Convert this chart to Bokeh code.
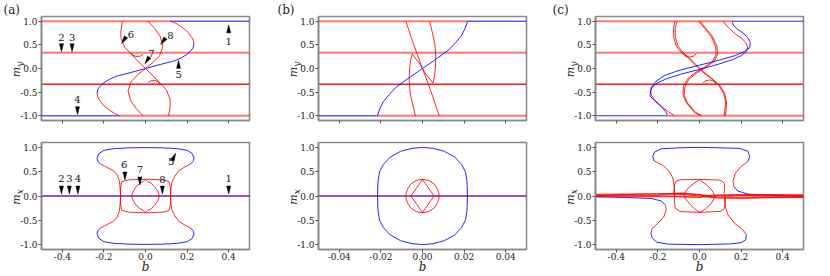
import numpy as np
from bokeh.plotting import figure
from bokeh.layouts import row, column
from bokeh.models import Range1d, FixedTicker, NumeralTickFormatter, LinearAxis
from bokeh.embed import file_html
from bokeh.resources import INLINE
from bokeh.core.properties import value

RED = "#ff0000"
BLUE = "#0000ff"
SERIF = "DejaVu Serif"
FW = 208
FH_TOP = 106
FH_BOT = 107
NB = "\u00a0"

# ---------------- panel (a), top: m_y vs b ----------------
a_blueS_b = [-0.233, -0.228, -0.215, -0.2, -0.17, -0.138, -0.075, 0.0, 0.075, 0.138, 0.17, 0.2, 0.215, 0.228, 0.233]
a_blueS_m = [-0.52, -0.43, -0.36, -0.3, -0.22, -0.16, -0.09, 0.0, 0.09, 0.16, 0.22, 0.3, 0.36, 0.43, 0.52]
a_arcLo_b = [-0.233, -0.23, -0.222, -0.2, -0.17, -0.145, -0.125]
a_arcLo_m = [-0.52, -0.6, -0.66, -0.79, -0.89, -0.96, -1.0]
a_arcHi_b = [0.233, 0.23, 0.222, 0.2, 0.17, 0.145, 0.12]
a_arcHi_m = [0.52, 0.6, 0.66, 0.79, 0.89, 0.96, 1.0]
a_curveA_b = [-0.111, -0.119, -0.118, -0.1, -0.075, -0.04, 0.0, 0.04, 0.075, 0.1, 0.118, 0.119, 0.111]
a_curveA_m = [1.0, 0.78, 0.65, 0.45, 0.335, 0.17, 0.0, -0.17, -0.335, -0.45, -0.65, -0.78, -1.0]
a_curveB_b = [0.012, 0.044, 0.071, 0.084, 0.068, 0.037, 0.0, -0.037, -0.068, -0.084, -0.071, -0.044, -0.012]
a_curveB_m = [1.0, 0.85, 0.68, 0.47, 0.27, 0.13, 0.0, -0.13, -0.27, -0.47, -0.68, -0.85, -1.0]
a_cusp1_b = [-0.067, -0.062, -0.045, -0.025, -0.012]
a_cusp1_m = [0.333, 0.28, 0.255, 0.26, 0.30]
a_cusp2_b = [0.067, 0.062, 0.045, 0.025, 0.012]
a_cusp2_m = [-0.333, -0.28, -0.255, -0.26, -0.30]
# flat levels: (level, b_from, b_to)
a_top_red_flat = [(1.0, -0.5, 0.12), (1/3, -0.5, 0.5), (-1.0, -0.125, 0.5)]
a_top_dark_flat = [(-1/3, -0.5, 0.5)]
a_top_blue_flat = [(1.0, 0.12, 0.5), (-1.0, -0.5, -0.125)]
a_top_ann_lab = ["1", "2", "3", "4", "5", "6", "7", "8"]
a_top_ann_tipb = [0.4, -0.404, -0.353, -0.327, 0.159, -0.115, -0.003, 0.073]
a_top_ann_tipm = [0.92, 0.356, 0.356, -0.975, 0.17, 0.53, 0.10, 0.51]
a_top_ann_ang = [90, 270, 270, 270, 90, 236, 237, 233]
a_top_ann_txtb = [0.4, -0.404, -0.353, -0.327, 0.159, -0.07, 0.029, 0.12]
a_top_ann_txtm = [0.58, 0.65, 0.65, -0.66, -0.12, 0.72, 0.31, 0.70]

# ---------------- panel (a), bottom: m_x vs b ----------------
a_outTop_b = [-0.217, -0.23, -0.233, -0.225, -0.2, -0.15, -0.08, 0.0, 0.08, 0.15, 0.2, 0.225, 0.233, 0.23, 0.217]
a_outTop_m = [0.66, 0.72, 0.78, 0.87, 0.94, 0.975, 0.99, 0.995, 0.99, 0.975, 0.94, 0.87, 0.78, 0.72, 0.66]
a_outBot_b = [-0.217, -0.23, -0.233, -0.225, -0.2, -0.15, -0.08, 0.0, 0.08, 0.15, 0.2, 0.225, 0.233, 0.23, 0.217]
a_outBot_m = [-0.66, -0.72, -0.78, -0.87, -0.94, -0.975, -0.99, -0.995, -0.99, -0.975, -0.94, -0.87, -0.78, -0.72, -0.66]
a_sideL_b = [-0.217, -0.186, -0.154, -0.135, -0.125, -0.122, -0.119, -0.122, -0.125, -0.135, -0.154, -0.186, -0.217]
a_sideL_m = [0.66, 0.59, 0.52, 0.43, 0.30, 0.16, 0.0, -0.16, -0.30, -0.43, -0.52, -0.59, -0.66]
a_sideR_b = [0.217, 0.186, 0.16, 0.14, 0.127, 0.122, 0.12, 0.122, 0.127, 0.14, 0.16, 0.186, 0.217]
a_sideR_m = [0.66, 0.59, 0.52, 0.40, 0.28, 0.16, 0.0, -0.16, -0.28, -0.40, -0.52, -0.59, -0.66]
a_rect_b = [-0.12, -0.121, -0.119, -0.114, -0.083, -0.04, 0.0, 0.04, 0.09, 0.113, 0.119, 0.121, 0.12,
            0.121, 0.119, 0.113, 0.09, 0.04, 0.0, -0.04, -0.083, -0.114, -0.119, -0.121, -0.12]
a_rect_m = [0.0, 0.1, 0.19, 0.296, 0.33, 0.34, 0.344, 0.34, 0.33, 0.296, 0.19, 0.1, 0.0,
            -0.1, -0.19, -0.296, -0.33, -0.34, -0.344, -0.34, -0.33, -0.296, -0.19, -0.1, 0.0]
a_eye_b = [0.0, -0.01, -0.027, -0.051, -0.063, -0.066, -0.063, -0.051, -0.027, -0.01, 0.0,
           0.01, 0.027, 0.051, 0.063, 0.066, 0.063, 0.051, 0.027, 0.01, 0.0]
a_eye_m = [0.34, 0.3, 0.26, 0.16, 0.055, 0.0, -0.055, -0.16, -0.26, -0.3, -0.34,
           -0.3, -0.26, -0.16, -0.055, 0.0, 0.055, 0.16, 0.26, 0.3, 0.34]
a_bot_ann_lab = ["1", "2", "3", "4", "5", "6", "7", "8"]
a_bot_ann_tipb = [0.4, -0.404, -0.366, -0.325, 0.145, -0.099, -0.027, 0.081]
a_bot_ann_tipm = [0.04, 0.04, 0.04, 0.04, 0.88, 0.33, 0.227, 0.04]
a_bot_ann_ang = [270, 270, 270, 270, 65, 270, 270, 270]
a_bot_ann_txtb = [0.4, -0.404, -0.366, -0.325, 0.124, -0.102, -0.027, 0.081]
a_bot_ann_txtm = [0.37, 0.37, 0.37, 0.37, 0.71, 0.64, 0.55, 0.345]

# ---------------- panel (b), top ----------------
b_blue_b = [-0.0216, -0.0213, -0.0205, -0.0188, -0.016, -0.0128, -0.0066, 0.0, 0.0066, 0.0128, 0.016, 0.0188, 0.0205, 0.0213, 0.0216]
b_blue_m = [-1.0, -0.95, -0.85, -0.7, -0.55, -0.4, -0.2, 0.0, 0.2, 0.4, 0.55, 0.7, 0.85, 0.95, 1.0]
b_r1_b = [-0.008, -0.0042, 0.0, 0.0042, 0.008]
b_r1_m = [1.0, 0.5, 0.0, -0.5, -1.0]
b_r2_b = [0.0034, 0.0048, 0.006, 0.0064, 0.0062, 0.0056, 0.005]
b_r2_m = [1.0, 0.75, 0.5, 0.25, 0.0, -0.2, -0.31]
b_r3_b = [-0.0034, -0.0048, -0.006, -0.0064, -0.0062, -0.0056, -0.005]
b_r3_m = [-1.0, -0.75, -0.5, -0.25, 0.0, 0.2, 0.31]
b_c1_b = [-0.005, -0.0035, -0.002, -0.0008, 0.0]
b_c1_m = [0.31, 0.22, 0.14, 0.06, 0.0]
b_c2_b = [0.005, 0.0035, 0.002, 0.0008, 0.0]
b_c2_m = [-0.31, -0.22, -0.14, -0.06, 0.0]
b_top_red_flat = [(1.0, -0.05, 0.0216), (1/3, -0.05, 0.05), (-1.0, -0.0216, 0.05)]
b_top_dark_flat = [(-1/3, -0.05, 0.05)]
b_top_blue_flat = [(1.0, 0.0216, 0.05), (-1.0, -0.05, -0.0216)]

# ---------------- panel (b), bottom ----------------
b_loop_b = [0.0, -0.005, -0.0105, -0.0155, -0.0188, -0.0206, -0.0214, -0.0216, -0.0214, -0.0206, -0.0188, -0.0155, -0.0105, -0.005, 0.0,
            0.005, 0.0105, 0.0155, 0.0188, 0.0206, 0.0214, 0.0216, 0.0214, 0.0206, 0.0188, 0.0155, 0.0105, 0.005, 0.0]
b_loop_m = [1.0, 0.98, 0.92, 0.8, 0.65, 0.5, 0.3, 0.0, -0.3, -0.5, -0.65, -0.8, -0.92, -0.98, -1.0,
            -0.98, -0.92, -0.8, -0.65, -0.5, -0.3, 0.0, 0.3, 0.5, 0.65, 0.8, 0.92, 0.98, 1.0]
b_oval_b = [0.0, -0.003, -0.0055, -0.007, -0.0078, -0.008, -0.0078, -0.007, -0.0055, -0.003, 0.0,
            0.003, 0.0055, 0.007, 0.0078, 0.008, 0.0078, 0.007, 0.0055, 0.003, 0.0]
b_oval_m = [0.345, 0.32, 0.25, 0.16, 0.07, 0.0, -0.07, -0.16, -0.25, -0.32, -0.345,
            -0.32, -0.25, -0.16, -0.07, 0.0, 0.07, 0.16, 0.25, 0.32, 0.345]
b_diam_b = [0.0, -0.0014, -0.0028, -0.0042, -0.0056, -0.0042, -0.0028, -0.0014, 0.0, 0.0014, 0.0028, 0.0042, 0.0056, 0.0042, 0.0028, 0.0014, 0.0]
b_diam_m = [0.34, 0.255, 0.17, 0.085, 0.0, -0.085, -0.17, -0.255, -0.34, -0.255, -0.17, -0.085, 0.0, 0.085, 0.17, 0.255, 0.34]

# ---------------- panel (c), top ----------------
c_S1_b = [0.5, 0.161, 0.158, 0.165, 0.177, 0.209, 0.233, 0.244, 0.241, 0.217, 0.169, 0.089, 0.0, -0.104, -0.169, -0.209, -0.233, -0.238, -0.217, -0.185, -0.163, -0.155, -0.158, -0.5]
c_S1_m = [1.0, 1.0, 0.97, 0.91, 0.85, 0.75, 0.65, 0.55, 0.44, 0.36, 0.27, 0.17, 0.07, -0.047, -0.15, -0.27, -0.41, -0.58, -0.68, -0.8, -0.91, -0.97, -1.0, -1.0]
c_S2_b = [0.232, 0.225, 0.2, 0.16, 0.09, 0.0, -0.09, -0.16, -0.2, -0.225, -0.235]
c_S2_m = [0.45, 0.36, 0.27, 0.19, 0.09, -0.02, -0.12, -0.22, -0.3, -0.38, -0.47]
c_arcHi_b = [0.232, 0.222, 0.205, 0.175, 0.145, 0.125, 0.115]
c_arcHi_m = [0.45, 0.55, 0.63, 0.72, 0.84, 0.93, 1.0]
c_arcLo_b = [-0.235, -0.232, -0.215, -0.185, -0.155, -0.12]
c_arcLo_m = [-0.47, -0.56, -0.67, -0.79, -0.9, -1.0]
c_A1_b = [-0.118, -0.125, -0.124, -0.112, -0.088, -0.056, -0.016, 0.016, 0.056, 0.092, 0.115, 0.126, 0.122, 0.118]
c_A1_m = [1.0, 0.85, 0.66, 0.48, 0.34, 0.23, 0.06, -0.075, -0.21, -0.35, -0.52, -0.7, -0.88, -1.0]
c_A2_b = [-0.108, -0.117, -0.116, -0.104, -0.08, -0.048, -0.01, 0.022, 0.062, 0.098, 0.121, 0.13, 0.128, 0.124]
c_A2_m = [1.0, 0.85, 0.66, 0.48, 0.34, 0.22, 0.05, -0.08, -0.22, -0.36, -0.53, -0.7, -0.88, -1.0]
c_B1_b = [-0.005, 0.024, 0.056, 0.077, 0.08, 0.064, 0.024, -0.016, -0.056, -0.077, -0.08, -0.064, -0.024, 0.005]
c_B1_m = [1.0, 0.85, 0.68, 0.47, 0.3, 0.16, 0.03, -0.075, -0.21, -0.38, -0.55, -0.72, -0.93, -1.0]
c_B2_b = [0.003, 0.03, 0.062, 0.084, 0.087, 0.07, 0.03, -0.01, -0.05, -0.07, -0.074, -0.058, -0.018, 0.011]
c_B2_m = [1.0, 0.85, 0.68, 0.47, 0.3, 0.15, 0.02, -0.085, -0.22, -0.39, -0.56, -0.73, -0.93, -1.0]
c_cusp1_b = [-0.08, -0.07, -0.05, -0.03, -0.015]
c_cusp1_m = [0.333, 0.27, 0.24, 0.26, 0.31]
c_cusp2_b = [0.08, 0.07, 0.05, 0.03, 0.015]
c_cusp2_m = [-0.333, -0.27, -0.24, -0.26, -0.31]
c_top_red_flat = [(1.0, -0.5, 0.161), (1/3, -0.5, 0.5), (-1.0, -0.158, 0.5)]
c_top_dark_flat = [(-1/3, -0.5, 0.5)]

# ---------------- panel (c), bottom ----------------
c_blueTop_b = [-0.217, -0.225, -0.217, -0.185, -0.1, 0.0, 0.1, 0.193, 0.233, 0.241, 0.233]
c_blueTop_m = [0.72, 0.81, 0.9, 0.97, 0.99, 1.0, 0.99, 0.98, 0.92, 0.81, 0.71]
c_redUR_b = [0.233, 0.201, 0.172, 0.161, 0.166]
c_redUR_m = [0.71, 0.61, 0.47, 0.30, 0.19]
c_blueTailR_b = [0.166, 0.185, 0.233, 0.33, 0.5]
c_blueTailR_m = [0.19, 0.10, 0.04, 0.014, 0.0]
c_redUL_b = [-0.217, -0.176, -0.145, -0.128, -0.12, -0.12]
c_redUL_m = [0.72, 0.63, 0.5, 0.37, 0.16, 0.0]
c_blueBot_b = [-0.233, -0.228, -0.205, -0.15, 0.0, 0.15, 0.2, 0.222, 0.225]
c_blueBot_m = [-0.77, -0.86, -0.95, -0.99, -1.0, -0.985, -0.96, -0.9, -0.79]
c_redLR_b = [0.225, 0.209, 0.169, 0.137, 0.124, 0.12, 0.12]
c_redLR_m = [-0.79, -0.7, -0.56, -0.39, -0.22, -0.05, 0.0]
c_redLL_b = [-0.233, -0.228, -0.2, -0.172, -0.16, -0.163]
c_redLL_m = [-0.77, -0.67, -0.56, -0.43, -0.29, -0.19]
c_blueTailL_b = [-0.163, -0.185, -0.233, -0.36, -0.5]
c_blueTailL_m = [-0.19, -0.10, -0.05, -0.03, -0.01]
c_rectU_b = [-0.124, -0.12, -0.112, -0.09, 0.0, 0.09, 0.104, 0.12, 0.12, 0.118]
c_rectU_m = [0.05, 0.23, 0.31, 0.335, 0.34, 0.33, 0.32, 0.26, 0.15, 0.05]
c_rectL_b = [-0.12, -0.12, -0.116, -0.092, 0.0, 0.101, 0.12, 0.124, 0.124]
c_rectL_m = [-0.02, -0.12, -0.255, -0.32, -0.337, -0.317, -0.255, -0.12, -0.02]
c_eye1_b = [0.0, -0.012, -0.03, -0.055, -0.07, -0.075, -0.068, -0.05, -0.025, -0.008, 0.0]
c_eye1_m = [0.34, 0.3, 0.25, 0.16, 0.07, 0.02, -0.05, -0.15, -0.26, -0.31, -0.337]
c_eye2_b = [0.0, 0.01, 0.028, 0.052, 0.066, 0.072, 0.07, 0.055, 0.03, 0.012, 0.0]
c_eye2_m = [0.34, 0.3, 0.25, 0.16, 0.07, 0.0, -0.06, -0.16, -0.26, -0.31, -0.337]
c_bundle_b = [-0.5, -0.2, -0.08, 0.0, 0.08, 0.2, 0.5]
c_bundle_m = [
    [0.035, 0.045, 0.05, 0.02, -0.03, -0.04, -0.03],
    [0.01, 0.02, 0.03, 0.0, -0.04, -0.045, -0.02],
    [-0.02, -0.015, -0.01, 0.0, 0.02, 0.03, 0.025],
    [0.0, 0.005, -0.02, -0.03, 0.01, 0.015, 0.01],
    [0.02, 0.04, 0.06, 0.03, -0.01, -0.02, -0.01],
]

Y_TICKS = [-1.0, -0.5, 0.0, 0.5, 1.0]
AB_TICKS = [-0.4, -0.2, 0.0, 0.2, 0.4]
B_TICKS = [-0.04, -0.02, 0.0, 0.02, 0.04]
TXT = "#222222"


def make_fig(xr, width, height, left, right, top, bottom, fh, xticks, fmt, is_top, sub, letter=None, letter_off=0):
    p = figure(width=width, height=height, x_range=Range1d(*xr), y_range=Range1d(-1.1, 1.1),
               output_backend="svg", toolbar_location=None,
               min_border_left=left, min_border_right=right,
               min_border_top=top, min_border_bottom=bottom)
    p.grid.visible = False
    p.outline_line_color = "#8a8a8a"
    p.outline_line_width = 1.6
    p.xaxis.ticker = FixedTicker(ticks=xticks)
    p.yaxis.ticker = FixedTicker(ticks=Y_TICKS)
    p.xaxis.formatter = NumeralTickFormatter(format=fmt)
    p.yaxis.formatter = NumeralTickFormatter(format="0.0")
    for ax in (p.xaxis[0], p.yaxis[0]):
        ax.axis_line_color = "#8a8a8a"
        ax.axis_line_width = 1.6
        ax.major_tick_line_color = "#555555"
        ax.minor_tick_line_color = None
        ax.major_tick_out = 3
        ax.major_tick_in = 0
        ax.major_label_standoff = 1
        ax.major_label_text_font = SERIF
        ax.major_label_text_font_size = "9px"
        ax.major_label_text_color = TXT
    # y label: subscript on the inner axis, "m" on an outer label-only axis
    ya = p.yaxis[0]
    ya.axis_label = NB * 3 + sub
    ya.axis_label_standoff = -8
    ya.axis_label_text_font = SERIF
    ya.axis_label_text_font_style = "italic"
    ya.axis_label_text_font_size = "9px"
    ya.axis_label_text_color = TXT
    outer = LinearAxis(ticker=FixedTicker(ticks=[]), axis_label="m" + NB * 2, axis_line_color=None,
                       major_tick_out=0, major_tick_in=0, minor_tick_out=0, minor_tick_in=0,
                       major_label_standoff=0, axis_label_standoff=-10,
                       axis_label_text_font=SERIF, axis_label_text_font_style="italic",
                       axis_label_text_font_size="11px", axis_label_text_color=TXT)
    p.add_layout(outer, "left")
    xa = p.xaxis[0]
    if is_top:
        xa.major_label_text_font_size = "1px"
        xa.major_label_text_color = None
        xa.major_label_standoff = 0
    else:
        xa.major_label_standoff = 0
        xa.axis_label = "b"
        xa.axis_label_standoff = -3
        xa.axis_label_text_font = SERIF
        xa.axis_label_text_font_style = "italic"
        xa.axis_label_text_font_size = "12px"
        xa.axis_label_text_color = TXT
    if letter is not None:
        p.title.text = letter
        p.title.align = "left"
        p.title.offset = letter_off
        p.title.standoff = 0
        p.title.text_font = SERIF
        p.title.text_font_style = "normal"
        p.title.text_font_size = "12px"
        p.title.text_color = TXT
    p._fh = fh
    p._sx = FW / (xr[1] - xr[0])
    p._sy = fh / 2.2
    return p


def flat(p, items, color, alpha, w):
    for lev, x0, x1 in items:
        p.line([x0, x1], [lev, lev], line_color=color, line_alpha=alpha, line_width=w)


def pink_flat(p, items):
    flat(p, items, RED, 0.3, 2.6)
    flat(p, items, RED, 0.45, 1.0)


def curve(p, xs, ys, color, alpha=0.85, w=1.0):
    p.line(xs, ys, line_color=color, line_alpha=alpha, line_width=w)


def annotate(p, labs, tb, tm, ang, xb, xm):
    xs_all, ys_all = [], []
    for k in range(len(labs)):
        a = np.deg2rad(ang[k])
        ux, uy = np.cos(a), np.sin(a)
        L, W = 8.0, 4.0
        bx, by = -L * ux, -L * uy
        nx, ny = -uy, ux
        xs_all.append([tb[k], tb[k] + (bx + nx * W / 2) / p._sx, tb[k] + (bx - nx * W / 2) / p._sx])
        ys_all.append([tm[k], tm[k] + (by + ny * W / 2) / p._sy, tm[k] + (by - ny * W / 2) / p._sy])
    p.patches(xs_all, ys_all, fill_color="black", line_color="black", line_width=0.5)
    p.text(x=xb, y=xm, text=labs, text_font=value(SERIF), text_font_size="10px",
           text_align="center", text_baseline="middle", text_color="#111111")


# ---------------- build (a) ----------------
pa1 = make_fig((-0.5, 0.5), 276, 130, 41, 27, 14, 10, FH_TOP, AB_TICKS, "0.0", True, "y", "(a)", -38)
pink_flat(pa1, a_top_red_flat)
flat(pa1, a_top_dark_flat, RED, 0.9, 1.3)
flat(pa1, a_top_blue_flat, BLUE, 0.65, 1.5)
curve(pa1, a_curveA_b, a_curveA_m, RED)
curve(pa1, a_curveB_b, a_curveB_m, RED)
curve(pa1, a_cusp1_b, a_cusp1_m, RED)
curve(pa1, a_cusp2_b, a_cusp2_m, RED)
curve(pa1, a_arcLo_b, a_arcLo_m, RED)
curve(pa1, a_arcHi_b, a_arcHi_m, RED)
curve(pa1, a_blueS_b, a_blueS_m, BLUE)
annotate(pa1, a_top_ann_lab, a_top_ann_tipb, a_top_ann_tipm, a_top_ann_ang, a_top_ann_txtb, a_top_ann_txtm)

pa2 = make_fig((-0.5, 0.5), 276, 146, 41, 27, 12, 27, FH_BOT, AB_TICKS, "0.0", False, "x")
curve(pa2, [-0.5, 0.5], [0, 0], BLUE, 0.7, 1.5)
curve(pa2, [-0.5, 0.5], [0, 0], RED, 0.6, 1.0)
curve(pa2, a_sideL_b, a_sideL_m, RED)
curve(pa2, a_sideR_b, a_sideR_m, RED)
curve(pa2, a_rect_b, a_rect_m, RED)
curve(pa2, a_eye_b, a_eye_m, RED)
curve(pa2, a_outTop_b, a_outTop_m, BLUE)
curve(pa2, a_outBot_b, a_outBot_m, BLUE)
annotate(pa2, a_bot_ann_lab, a_bot_ann_tipb, a_bot_ann_tipm, a_bot_ann_ang, a_bot_ann_txtb, a_bot_ann_txtm)

# ---------------- build (b) ----------------
pb1 = make_fig((-0.05, 0.05), 277, 130, 42, 27, 14, 10, FH_TOP, B_TICKS, "0.00", True, "y", "(b)", -41)
pink_flat(pb1, b_top_red_flat)
flat(pb1, b_top_dark_flat, RED, 0.9, 1.3)
flat(pb1, b_top_blue_flat, BLUE, 0.65, 1.5)
curve(pb1, b_r1_b, b_r1_m, RED)
curve(pb1, b_r2_b, b_r2_m, RED)
curve(pb1, b_r3_b, b_r3_m, RED)
curve(pb1, b_c1_b, b_c1_m, RED)
curve(pb1, b_c2_b, b_c2_m, RED)
curve(pb1, b_blue_b, b_blue_m, BLUE)

pb2 = make_fig((-0.05, 0.05), 277, 146, 42, 27, 12, 27, FH_BOT, B_TICKS, "0.00", False, "x")
curve(pb2, [-0.05, 0.05], [0, 0], BLUE, 0.7, 1.5)
curve(pb2, [-0.05, 0.05], [0, 0], RED, 0.6, 1.0)
curve(pb2, b_loop_b, b_loop_m, BLUE)
curve(pb2, b_oval_b, b_oval_m, RED)
curve(pb2, b_diam_b, b_diam_m, RED)

# ---------------- build (c) ----------------
pc1 = make_fig((-0.5, 0.5), 277, 130, 42, 27, 14, 10, FH_TOP, AB_TICKS, "0.0", True, "y", "(c)", -43)
pink_flat(pc1, c_top_red_flat)
flat(pc1, c_top_dark_flat, RED, 0.9, 1.3)
for xs, ys in [(c_A1_b, c_A1_m), (c_A2_b, c_A2_m), (c_B1_b, c_B1_m), (c_B2_b, c_B2_m),
               (c_cusp1_b, c_cusp1_m), (c_cusp2_b, c_cusp2_m), (c_arcHi_b, c_arcHi_m), (c_arcLo_b, c_arcLo_m)]:
    curve(pc1, xs, ys, RED)
curve(pc1, c_S2_b, c_S2_m, BLUE)
curve(pc1, c_S1_b, c_S1_m, BLUE)

pc2 = make_fig((-0.5, 0.5), 277, 146, 42, 27, 12, 27, FH_BOT, AB_TICKS, "0.0", False, "x")
curve(pc2, c_blueTailL_b, c_blueTailL_m, BLUE)
curve(pc2, c_blueTailR_b, c_blueTailR_m, BLUE)
for ms in c_bundle_m:
    curve(pc2, c_bundle_b, ms, RED, 0.85, 1.1)
for xs, ys in [(c_redUR_b, c_redUR_m), (c_redUL_b, c_redUL_m), (c_redLR_b, c_redLR_m), (c_redLL_b, c_redLL_m),
               (c_rectU_b, c_rectU_m), (c_rectL_b, c_rectL_m), (c_eye1_b, c_eye1_m), (c_eye2_b, c_eye2_m)]:
    curve(pc2, xs, ys, RED)
curve(pc2, c_blueTop_b, c_blueTop_m, BLUE)
curve(pc2, c_blueBot_b, c_blueBot_m, BLUE)

layout = column(row(pa1, pb1, pc1), row(pa2, pb2, pc2))
open("out.html", "w").write(file_html(layout, INLINE))
